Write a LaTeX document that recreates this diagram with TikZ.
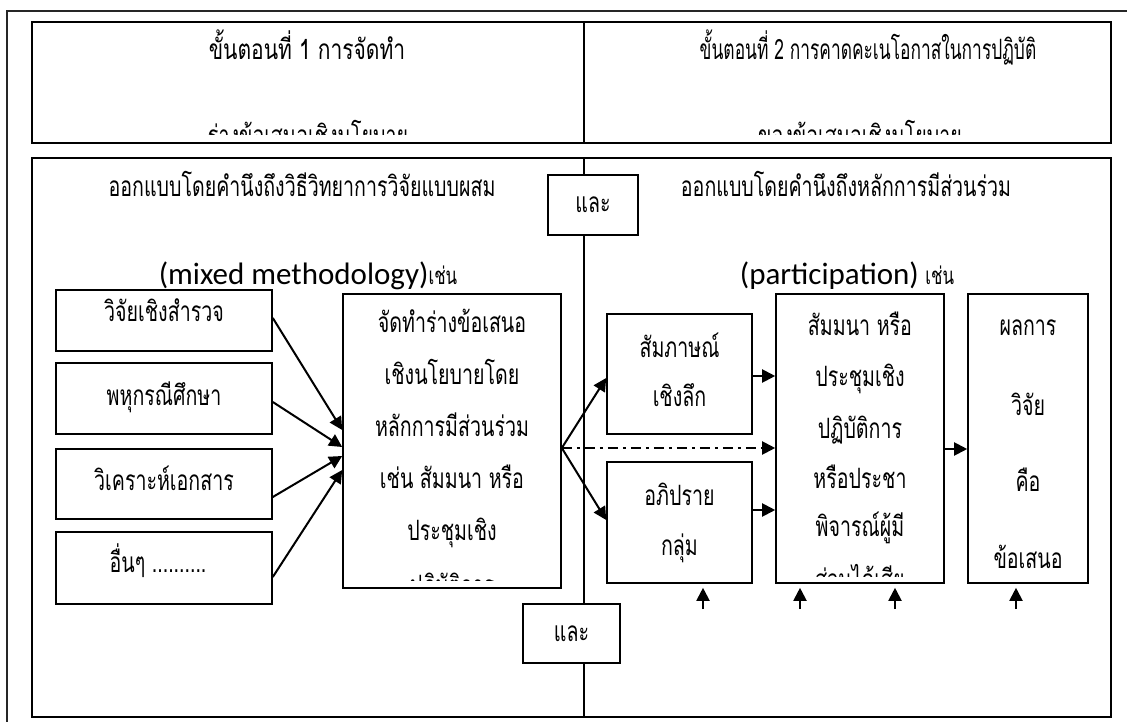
\documentclass[tikz,border=0pt]{standalone}
\usepackage{fontspec}
\setmainfont{Carlito}
\newfontfamily\thaifont[Script=Thai,FakeStretch=0.70]{Loma}
\newfontfamily\thaiwide[Script=Thai,FakeStretch=0.75]{Loma}
\newfontfamily\thainarrow[Script=Thai,FakeStretch=0.62]{Loma}
\newfontfamily\latfont{Carlito}
\usetikzlibrary{arrows.meta}

\tikzset{
  th/.style={font=\thaifont\fontsize{28}{28}\selectfont, inner sep=0pt, anchor=base},
  panel/.style n args={2}{draw=black, line width=2pt, minimum width=#1pt, minimum height=#2pt, inner sep=0pt},
  stepbox/.style n args={2}{draw=black, fill=white, line width=1.6pt, minimum width=#1pt, minimum height=#2pt, inner sep=0pt},
  arr/.style={line width=2pt, -{Triangle[length=13pt,width=13pt]}},
  dashdot/.style={arr, dash pattern=on 10pt off 5pt on 3pt off 5pt},
  divider/.style={line width=1.5pt}
}

\begin{document}
\begin{tikzpicture}[x=1pt,y=-1pt]
\useasboundingbox (0,0) rectangle (1127,722);
\clip (0,0) rectangle (1127,722);

% outer page frame
\draw[line width=1.2pt, draw=black!85] (7,11) rectangle (1150,750);

% stage header table
\node[panel={1079}{121}] (head) at (571.5,82.5) {};
\draw[divider] (584,22) -- (584,143);
\node[th, font=\thaiwide\fontsize{28}{28}\selectfont] (h1) at (307,60) {ขั้นตอนที่ 1 การจัดทำ};
\node[th, font=\thainarrow\fontsize{28}{28}\selectfont] (h2) at (868,60) {ขั้นตอนที่ 2 การคาดคะเนโอกาสในการปฏิบัติ};
\begin{scope}
  \clip (32,22) rectangle (1111,135);
  \node[th] (h1b) at (308,146) {ร่างข้อเสนอเชิงนโยบาย};
  \node[th] (h2b) at (860,146) {ของข้อเสนอเชิงนโยบาย};
\end{scope}

% main design panel
\node[panel={1079}{559}] (main) at (571.5,437.5) {};
\draw[divider] (584,158) -- (584,717);

\node[th] (t1) at (302,197) {ออกแบบโดยคำนึงถึงวิธีวิทยาการวิจัยแบบผสม};
\node[th] (t2) at (846,197) {ออกแบบโดยคำนึงถึงหลักการมีส่วนร่วม};
\node[th] (m1) at (308,284) {{\latfont\fontsize{31}{31}\selectfont (mixed methodology)}{\fontsize{24}{24}\selectfont เช่น}};
\node[th] (m2) at (847,284) {{\latfont\fontsize{31}{31}\selectfont (participation)} {\fontsize{24}{24}\selectfont เช่น}};

% connectors "and"
\node[stepbox={90}{60}] (and1) at (593,205) {};
\node[th] (and1t) at (593,213) {และ};
\node[stepbox={97}{59}] (and2) at (571.5,633.5) {};
\node[th] (and2t) at (571.5,641) {และ};

% research methods
\node[stepbox={216}{61}] (b1) at (164,320.5) {};
\node[stepbox={216}{71}] (b2) at (164,398.5) {};
\node[stepbox={216}{70}] (b3) at (164,484) {};
\node[stepbox={216}{72}] (b4) at (164,568) {};
\node[th] (b1t) at (164,321) {วิจัยเชิงสำรวจ};
\node[th] (b2t) at (164,405) {พหุกรณีศึกษา};
\node[th] (b3t) at (164,490) {วิเคราะห์เอกสาร};
\node[th] (b4t) at (158,572) {อื่นๆ ..........};

% draft proposal
\node[stepbox={218}{294}] (C) at (452,441) {};
\begin{scope}
  \clip (343,294) rectangle (561,580);
  \node[th] (c1) at (452,332) {จัดทำร่างข้อเสนอ};
  \node[th] (c2) at (452,384) {เชิงนโยบายโดย};
  \node[th] (c3) at (452,436) {หลักการมีส่วนร่วม};
  \node[th] (c4) at (452,488) {เช่น สัมมนา หรือ};
  \node[th] (c5) at (452,540) {ประชุมเชิง};
  \node[th] (c6) at (452,595) {ปฏิบัติการ};
\end{scope}

% participation activities
\node[stepbox={145}{120}] (S) at (679.5,374) {};
\node[th] (s1) at (679.5,357) {สัมภาษณ์};
\node[th] (s2) at (679.5,406) {เชิงลึก};
\node[stepbox={145}{121}] (A) at (679.5,522.5) {};
\node[th] (a1) at (679.5,505) {อภิปราย};
\node[th] (a2) at (679.5,555) {กลุ่ม};

\node[stepbox={168}{289}] (P) at (860,438.5) {};
\begin{scope}
  \clip (776,294) rectangle (944,576);
  \node[th] (p1) at (860,335) {สัมมนา หรือ};
  \node[th] (p2) at (860,386) {ประชุมเชิง};
  \node[th] (p3) at (860,438) {ปฏิบัติการ};
  \node[th] (p4) at (860,488) {หรือประชา};
  \node[th] (p5) at (860,536) {พิจารณ์ผู้มี};
  \node[th] (p6) at (860,589) {ส่วนได้เสีย};
\end{scope}

\node[stepbox={120}{289}] (R) at (1028,438.5) {};
\node[th] (r1) at (1028,335) {ผลการ};
\node[th] (r2) at (1028,415) {วิจัย};
\node[th] (r3) at (1028,491) {คือ};
\node[th] (r4) at (1028,568) {ข้อเสนอ};

% arrows into the draft
\draw[arr] ([yshift=2.5pt]b1.east) -- ([yshift=11pt]C.west);
\draw[arr] ([yshift=-3.5pt]b2.east) -- ([yshift=-6pt]C.west);
\draw[arr] ([yshift=-13pt]b3.east) -- ([yshift=-15pt]C.west);
\draw[arr] ([yshift=-9pt]b4.east) -- ([yshift=-29pt]C.west);

% fan out to participation methods
\draw[arr] ([yshift=-7pt]C.east) -- ([yshift=-4pt]S.west);
\draw[arr] ([yshift=-7pt]C.east) -- ([yshift=2.5pt]A.west);
\draw[dashdot] ([yshift=-7pt]C.east) -- ([yshift=-9.5pt]P.west);
\draw[arr] ([yshift=-2pt]S.east) -- ([yshift=-2pt]S.east -| P.west);
\draw[arr] ([yshift=12.5pt]A.east) -- ([yshift=12.5pt]A.east -| P.west);
\draw[arr] ([yshift=-10.5pt]P.east) -- ([yshift=-10.5pt]P.east -| R.west);

% feedback arrows from below
\coordinate (u1) at (703,609);
\coordinate (u2) at (800,609);
\coordinate (u3) at (895,609);
\coordinate (u4) at (1016,609);
\draw[arr] (u1) -- ([yshift=-4pt]u1 |- A.south);
\draw[arr] (u2) -- ([yshift=-4pt]u2 |- P.south);
\draw[arr] (u3) -- ([yshift=-4pt]u3 |- P.south);
\draw[arr] (u4) -- ([yshift=-4pt]u4 |- R.south);
\end{tikzpicture}
\end{document}
